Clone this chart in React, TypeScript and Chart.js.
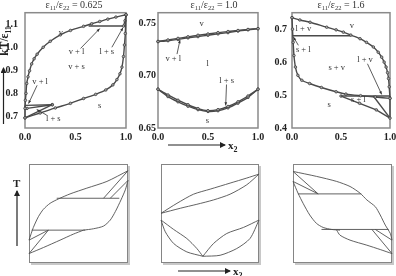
import React, { useEffect, useRef } from "react";
import { Chart, registerables } from "chart.js";

Chart.register(...registerables);

type Pt = [number, number];

const SERIF = '"Liberation Serif", "Times New Roman", serif';

// ---------- Panel A : eps11/eps22 = 0.625 ----------
const aDew: Pt[] = [[0,0.735],[0.004,0.77],[0.01,0.80],[0.017,0.843],[0.03,0.872],[0.045,0.898],[0.066,0.928],[0.09,0.95],[0.12,0.97],[0.18,1.0],[0.25,1.026],[0.35,1.054],[0.45,1.073],[0.58,1.091],[0.66,1.102],[0.74,1.112],[0.82,1.122],[0.9,1.131],[1.0,1.141]];
const aSolidus: Pt[] = [[0,0.694],[0.15,0.715],[0.3,0.737],[0.45,0.757],[0.58,0.778],[0.7,0.796],[0.8,0.815],[0.87,0.837],[0.91,0.86],[0.94,0.885],[0.96,0.914],[0.975,0.96],[0.985,1.01],[0.993,1.06],[1.0,1.141]];
const aLiqRight: Pt[] = [[0.975,1.092],[0.99,1.115],[1.0,1.141]];
const aTopTie: Pt[] = [[0.63,1.092],[1.0,1.092]];
const aLowTie: Pt[] = [[0,0.748],[0.27,0.751]];
const aLowZ: Pt[] = [[0.02,0.735],[0.27,0.751]];
const aLowLiq: Pt[] = [[0,0.694],[0.27,0.751]];
const aLeftEdge: Pt[] = [[0,0.694],[0,0.748]];

// ---------- Panel B : eps11/eps22 = 1.0 ----------
const bVapUpper: Pt[] = [[0,0.7325],[0.1,0.734],[0.2,0.7355],[0.3,0.737],[0.4,0.7385],[0.5,0.7397],[0.6,0.741],[0.7,0.742],[0.8,0.743],[0.9,0.744],[1,0.7448]];
const bVapLower: Pt[] = [[0,0.7325],[0.1,0.7333],[0.2,0.7345],[0.3,0.736],[0.4,0.7372],[0.5,0.7385],[0.6,0.7398],[0.7,0.741],[0.8,0.7425],[0.9,0.7437],[1,0.7448]];
const bLiquidus: Pt[] = [[0,0.687],[0.1,0.6815],[0.2,0.6765],[0.3,0.6722],[0.4,0.6685],[0.5,0.6665],[0.6,0.6675],[0.7,0.6705],[0.8,0.675],[0.9,0.6805],[1,0.687]];
const bSolidus: Pt[] = [[0,0.687],[0.1,0.680],[0.2,0.675],[0.3,0.6708],[0.4,0.6675],[0.5,0.6658],[0.6,0.6665],[0.7,0.6692],[0.8,0.6737],[0.9,0.6792],[1,0.687]];

// ---------- Panel C : eps11/eps22 = 1.6 ----------
const cDew: Pt[] = [[0,0.735],[0.08,0.728],[0.184,0.721],[0.354,0.706],[0.45,0.698],[0.524,0.691],[0.6,0.682],[0.694,0.671],[0.76,0.66],[0.83,0.646],[0.88,0.63],[0.915,0.615],[0.94,0.6],[0.96,0.585],[0.975,0.568],[0.985,0.55],[0.992,0.525],[1.0,0.49]];
const cTopTie: Pt[] = [[0,0.68],[0.6,0.68]];
const cLeft: Pt[] = [[0,0.735],[0.005,0.70],[0.012,0.66],[0.02,0.62],[0.035,0.585],[0.06,0.56],[0.1,0.545],[0.18,0.535],[0.3,0.523],[0.45,0.51],[0.55,0.503],[0.7,0.498],[0.85,0.494],[1.0,0.49]];
const cLowTie: Pt[] = [[0.5,0.497],[1,0.497]];
const cSolid1: Pt[] = [[0.5,0.497],[0.69,0.475],[0.86,0.455],[1.0,0.43]];
const cSolid2: Pt[] = [[0.83,0.497],[1.0,0.43]];
const cRightEdge: Pt[] = [[1.0,0.497],[1.0,0.43]];

// ---------- Panel D : schematic (left) ----------
const dUpper: Pt[] = [[0,0.231],[0.044,0.359],[0.095,0.468],[0.145,0.542],[0.213,0.603],[0.297,0.647],[0.415,0.698],[0.584,0.756],[0.787,0.824],[1.0,0.932]];
const dTopTie: Pt[] = [[0.28,0.654],[0.912,0.654]];
const dDiag1: Pt[] = [[0.753,0.654],[1,0.932]];
const dDiag2: Pt[] = [[0.821,0.654],[1,0.834]];
const dRightS: Pt[] = [[1,0.834],[0.973,0.739],[0.929,0.637],[0.872,0.519],[0.821,0.434],[0.753,0.373],[0.652,0.346],[0.551,0.332]];
const dLowTie: Pt[] = [[0.027,0.332],[0.568,0.332]];
const dLower: Pt[] = [[0.551,0.332],[0.449,0.292],[0.314,0.231],[0.145,0.156],[0,0.095]];
const dTri1: Pt[] = [[0,0.231],[0.196,0.332]];
const dTri2: Pt[] = [[0,0.095],[0.196,0.332]];

// ---------- Panel E : schematic (middle) ----------
const eLensUpper: Pt[] = [[0,0.502],[0.163,0.603],[0.332,0.695],[0.502,0.746],[0.705,0.807],[0.875,0.858],[1.0,0.898]];
const eLensLower: Pt[] = [[0,0.502],[0.197,0.553],[0.366,0.593],[0.536,0.637],[0.705,0.695],[0.875,0.790],[1,0.898]];
const eLeftOuter: Pt[] = [[0,0.434],[0.044,0.315],[0.129,0.197],[0.264,0.112],[0.427,0.068]];
const eLeftInner: Pt[] = [[0,0.434],[0.129,0.339],[0.264,0.247],[0.366,0.146],[0.427,0.068]];
const eRightUpper: Pt[] = [[0.427,0.068],[0.536,0.197],[0.671,0.298],[0.841,0.359],[1,0.434]];
const eRightLower: Pt[] = [[0.427,0.068],[0.603,0.078],[0.773,0.146],[0.908,0.247],[1,0.434]];

// ---------- Panel F : schematic (right) ----------
const fTop: Pt[] = [[0,0.925],[0.237,0.875],[0.441,0.824],[0.576,0.773],[0.678,0.705],[0.746,0.637],[0.831,0.569],[0.881,0.485],[0.932,0.383],[0.983,0.298],[1.0,0.231]];
const fTri1: Pt[] = [[0,0.925],[0.254,0.698]];
const fTri2: Pt[] = [[0,0.824],[0.254,0.698]];
const fTopTie: Pt[] = [[0.05,0.698],[0.69,0.698]];
const fLeft: Pt[] = [[0,0.824],[0.051,0.705],[0.102,0.603],[0.169,0.485],[0.237,0.400],[0.305,0.359],[0.390,0.339],[0.475,0.332]];
const fLowTie: Pt[] = [[0.288,0.339],[0.966,0.339]];
const fLower: Pt[] = [[0.441,0.332],[0.475,0.281],[0.576,0.231],[0.746,0.180],[0.881,0.136],[1,0.095]];
const fDiag1: Pt[] = [[0.797,0.339],[1,0.095]];
const fDiag2: Pt[] = [[0.831,0.339],[1,0.231]];

// ---------- tick values ----------
const xTickValues = [0, 0.5, 1];
const aYTicks = [0.7, 0.8, 0.9, 1.0, 1.1];
const bYTicks = [0.65, 0.70, 0.75];
const cYTicks = [0.4, 0.5, 0.6, 0.7];

// ---------- region labels (data coordinates) ----------
type Label = [string, number, number];
type Arrow = [number, number, number, number];
const aLabels: Label[] = [["v",0.356,1.063],["v + l",0.51,0.982],["l + s",0.81,0.982],["v + s",0.51,0.917],["v + l",0.15,0.85],["s",0.74,0.747],["l + s",0.28,0.69]];
const aArrows: Arrow[] = [[0.55,0.995,0.74,1.081],[0.86,1.0,0.97,1.085],[0.12,0.835,0.035,0.756],[0.215,0.706,0.116,0.73]];
const bLabels: Label[] = [["v",0.437,0.7495],["v + l",0.153,0.716],["l",0.497,0.711],["l + s",0.687,0.695],["s",0.493,0.657]];
const bArrows: Arrow[] = [[0.19,0.7205,0.22,0.734],[0.685,0.6915,0.677,0.6715]];
const cLabels: Label[] = [["l + v",0.116,0.70],["v",0.61,0.709],["s + l",0.115,0.636],["l + v",0.745,0.607],["s + v",0.456,0.582],["s + l",0.677,0.487],["s",0.378,0.472]];
const cArrows: Arrow[] = [[0.065,0.651,0.015,0.676],[0.77,0.595,0.915,0.502]];

interface Series { pts: Pt[]; curve: boolean; marks: boolean; }
interface PanelSpec {
  kind: "top" | "bottom";
  box: { x: number; y: number; w: number; h: number };
  xr: [number, number];
  yr: [number, number];
  yTicks?: number[];
  yDigits?: number;
  yPad?: number;
  series: Series[];
  labels: Label[];
  arrows: Arrow[];
}

const S = (pts: Pt[], curve = true, marks = false): Series => ({ pts, curve, marks });

const panels: PanelSpec[] = [
  {
    kind: "top", box: { x: 25, y: 12, w: 101, h: 116 }, xr: [0, 1], yr: [0.65, 1.15],
    yTicks: aYTicks, yDigits: 1, yPad: 7,
    series: [S(aDew, true, true), S(aSolidus, true, true), S(aLiqRight, false, true), S(aTopTie, false), S(aLowTie, false), S(aLowZ, false, true), S(aLowLiq, false, true), S(aLeftEdge, false)],
    labels: aLabels, arrows: aArrows,
  },
  {
    kind: "top", box: { x: 158, y: 12, w: 100, h: 116 }, xr: [0, 1], yr: [0.65, 0.76],
    yTicks: bYTicks, yDigits: 2, yPad: 2,
    series: [S(bVapUpper, true, true), S(bVapLower, true, true), S(bLiquidus, true, true), S(bSolidus, true, true)],
    labels: bLabels, arrows: bArrows,
  },
  {
    kind: "top", box: { x: 292, y: 12, w: 98, h: 116 }, xr: [0, 1], yr: [0.4, 0.75],
    yTicks: cYTicks, yDigits: 1, yPad: 5,
    series: [S(cDew, true, true), S(cTopTie, false), S(cLeft, true, true), S(cLowTie, false), S(cSolid1, false, true), S(cSolid2, false), S(cRightEdge, false)],
    labels: cLabels, arrows: cArrows,
  },
  {
    kind: "bottom", box: { x: 29, y: 164, w: 99, h: 99 }, xr: [0, 1], yr: [0, 1],
    series: [S(dUpper), S(dTopTie, false), S(dDiag1, false), S(dDiag2, false), S(dRightS), S(dLowTie, false), S(dLower), S(dTri1, false), S(dTri2, false)],
    labels: [], arrows: [],
  },
  {
    kind: "bottom", box: { x: 161, y: 164, w: 98, h: 99 }, xr: [0, 1], yr: [0, 1],
    series: [S(eLensUpper), S(eLensLower), S(eLeftOuter), S(eLeftInner), S(eRightUpper), S(eRightLower)],
    labels: [], arrows: [],
  },
  {
    kind: "bottom", box: { x: 293, y: 164, w: 99, h: 99 }, xr: [0, 1], yr: [0, 1],
    series: [S(fTop), S(fTri1, false), S(fTri2, false), S(fTopTie, false), S(fLeft), S(fLowTie, false), S(fLower), S(fDiag1, false), S(fDiag2, false)],
    labels: [], arrows: [],
  },
];

function makeDecor(spec: PanelSpec) {
  return {
    id: "decor",
    beforeDatasetsDraw(chart: any) {
      const { ctx, chartArea: a } = chart;
      ctx.save();
      if (spec.kind === "top") {
        ctx.strokeStyle = "#8a8a8a";
        ctx.lineWidth = 1.5;
        ctx.strokeRect(a.left, a.top, a.right - a.left, a.bottom - a.top);
      } else {
        ctx.strokeStyle = "#c8c8c8";
        ctx.lineWidth = 2;
        ctx.beginPath();
        ctx.moveTo(a.right + 1, a.top + 2);
        ctx.lineTo(a.right + 1, a.bottom + 1);
        ctx.lineTo(a.left + 2, a.bottom + 1);
        ctx.stroke();
        ctx.strokeStyle = "#858585";
        ctx.lineWidth = 1;
        ctx.strokeRect(a.left + 0.5, a.top + 0.5, a.right - a.left - 1, a.bottom - a.top - 1);
      }
      ctx.restore();
    },
    afterDatasetsDraw(chart: any) {
      const { ctx } = chart;
      const xs = chart.scales.x;
      const ys = chart.scales.y;
      ctx.save();
      ctx.fillStyle = "#333";
      ctx.strokeStyle = "#333";
      ctx.font = `8.5px ${SERIF}`;
      ctx.textAlign = "center";
      ctx.textBaseline = "middle";
      spec.labels.forEach(([t, x, y]) => {
        ctx.fillText(t, xs.getPixelForValue(x), ys.getPixelForValue(y));
      });
      ctx.lineWidth = 0.8;
      spec.arrows.forEach(([x1, y1, x2, y2]) => {
        const px1 = xs.getPixelForValue(x1), py1 = ys.getPixelForValue(y1);
        const px2 = xs.getPixelForValue(x2), py2 = ys.getPixelForValue(y2);
        ctx.beginPath();
        ctx.moveTo(px1, py1);
        ctx.lineTo(px2, py2);
        ctx.stroke();
        const ang = Math.atan2(py2 - py1, px2 - px1);
        const L = 3.5;
        ctx.beginPath();
        ctx.moveTo(px2, py2);
        ctx.lineTo(px2 - L * Math.cos(ang - 0.4), py2 - L * Math.sin(ang - 0.4));
        ctx.lineTo(px2 - L * Math.cos(ang + 0.4), py2 - L * Math.sin(ang + 0.4));
        ctx.closePath();
        ctx.fill();
      });
      ctx.restore();
    },
  };
}

function Panel({ spec }: { spec: PanelSpec }) {
  const ref = useRef<HTMLCanvasElement>(null);
  const axes = spec.kind === "top";
  const yAxisW = axes ? 30 : 0;
  const xAxisH = axes ? 17 : 0;
  const padT = axes ? 4 : 3;
  const padR = axes ? 14 : 3;
  const padL = axes ? 0 : 3;
  const padB = axes ? 0 : 3;
  const cw = padL + yAxisW + spec.box.w + padR;
  const ch = padT + spec.box.h + xAxisH + padB;
  const left = spec.box.x - yAxisW - padL;
  const top = spec.box.y - padT;

  useEffect(() => {
    const tickFont = { family: SERIF, size: 10, weight: "bold" as const };
    const chart = new Chart(ref.current as HTMLCanvasElement, {
      type: "scatter",
      data: {
        datasets: spec.series.map((s) => ({
          data: s.pts.map(([x, y]) => ({ x, y })),
          showLine: true,
          borderColor: axes ? "#4a4a4a" : "#505050",
          borderWidth: axes ? 1.4 : 0.9,
          tension: s.curve ? 0.25 : 0,
          pointRadius: s.marks ? 1.3 : 0,
          pointBorderWidth: 0.7,
          pointBorderColor: "#333",
          pointBackgroundColor: "#aaa",
          clip: false as any,
        })),
      },
      options: {
        animation: false,
        responsive: false,
        events: [],
        layout: { padding: { left: padL, right: padR, top: padT, bottom: padB } },
        plugins: { legend: { display: false }, tooltip: { enabled: false }, title: { display: false } },
        scales: {
          x: {
            type: "linear",
            min: spec.xr[0],
            max: spec.xr[1],
            display: axes,
            grid: { display: false, drawTicks: false },
            border: { display: false },
            afterBuildTicks: (s: any) => { s.ticks = xTickValues.map((value) => ({ value })); },
            afterFit: (s: any) => { s.height = xAxisH; s.paddingLeft = 0; s.paddingRight = 0; s.paddingTop = 0; s.paddingBottom = 0; },
            ticks: {
              padding: 3, font: tickFont, color: "#222", maxRotation: 0, minRotation: 0, autoSkip: false,
              callback: (v: any) => Number(v).toFixed(1),
            },
          },
          y: {
            type: "linear",
            min: spec.yr[0],
            max: spec.yr[1],
            display: axes,
            grid: { display: false, drawTicks: false },
            border: { display: false },
            afterBuildTicks: (s: any) => { s.ticks = (spec.yTicks || []).map((value) => ({ value })); },
            afterFit: (s: any) => { s.width = yAxisW; s.paddingTop = 0; s.paddingBottom = 0; s.paddingLeft = 0; s.paddingRight = 0; },
            ticks: {
              padding: spec.yPad ?? 4, font: tickFont, color: "#222", autoSkip: false,
              callback: (v: any) => Number(v).toFixed(spec.yDigits ?? 1),
            },
          },
        },
      },
      plugins: [makeDecor(spec)],
    });
    return () => chart.destroy();
  }, []);

  return (
    <canvas
      ref={ref}
      width={cw}
      height={ch}
      style={{ position: "absolute", left, top, width: cw, height: ch }}
    />
  );
}

const subStyle: React.CSSProperties = { fontSize: 6.5, position: "relative", top: 2 };

function Ratio({ cx, value }: { cx: number; value: string }) {
  return (
    <div style={{ position: "absolute", left: cx - 50, width: 100, top: 0, textAlign: "center", fontSize: 10, lineHeight: "10px", whiteSpace: "nowrap", color: "#333" }}>
      ε<span style={subStyle}>11</span>/ε<span style={subStyle}>22</span> = {value}
    </div>
  );
}

export default function App() {
  return (
    <div style={{ position: "fixed", left: 0, top: 0, width: 396, height: 276, overflow: "hidden", background: "#fff", fontFamily: SERIF, color: "#222" }}>
      {panels.map((p, i) => <Panel key={i} spec={p} />)}
      <Ratio cx={74} value="0.625" />
      <Ratio cx={214} value="1.0" />
      <Ratio cx={341} value="1.6" />
      <div style={{ position: "absolute", left: -21, top: 35, width: 50, height: 12, lineHeight: "12px", textAlign: "center", transform: "rotate(-90deg)", fontWeight: "bold", fontSize: 11.5, whiteSpace: "nowrap" }}>
        kT/ε<span style={{ fontSize: 7.5, position: "relative", top: 3 }}>11</span>
      </div>
      <div style={{ position: "absolute", left: 228, top: 139, fontWeight: "bold", fontSize: 11, lineHeight: "12px" }}>
        x<span style={{ fontSize: 8, position: "relative", top: 3 }}>2</span>
      </div>
      <div style={{ position: "absolute", left: 233, top: 265, fontWeight: "bold", fontSize: 11, lineHeight: "12px" }}>
        x<span style={{ fontSize: 8, position: "relative", top: 3 }}>2</span>
      </div>
      <div style={{ position: "absolute", left: 13, top: 177, fontWeight: "bold", fontSize: 11, lineHeight: "12px" }}>T</div>
      <svg width={396} height={276} style={{ position: "absolute", left: 0, top: 0, pointerEvents: "none" }}>
        <defs>
          <marker id="ah" markerWidth="6" markerHeight="6" refX="5" refY="3" orient="auto" markerUnits="userSpaceOnUse">
            <path d="M0,0 L6,3 L0,6 z" fill="#222" />
          </marker>
        </defs>
        <line x1={3.5} y1={124} x2={3.5} y2={68} stroke="#222" strokeWidth={1.2} markerEnd="url(#ah)" />
        <line x1={168} y1={145} x2={225} y2={145} stroke="#222" strokeWidth={1.2} markerEnd="url(#ah)" />
        <line x1={178} y1={271} x2={230} y2={271} stroke="#222" strokeWidth={1.2} markerEnd="url(#ah)" />
        <line x1={17} y1={246} x2={17} y2={191} stroke="#222" strokeWidth={1.2} markerEnd="url(#ah)" />
      </svg>
    </div>
  );
}
